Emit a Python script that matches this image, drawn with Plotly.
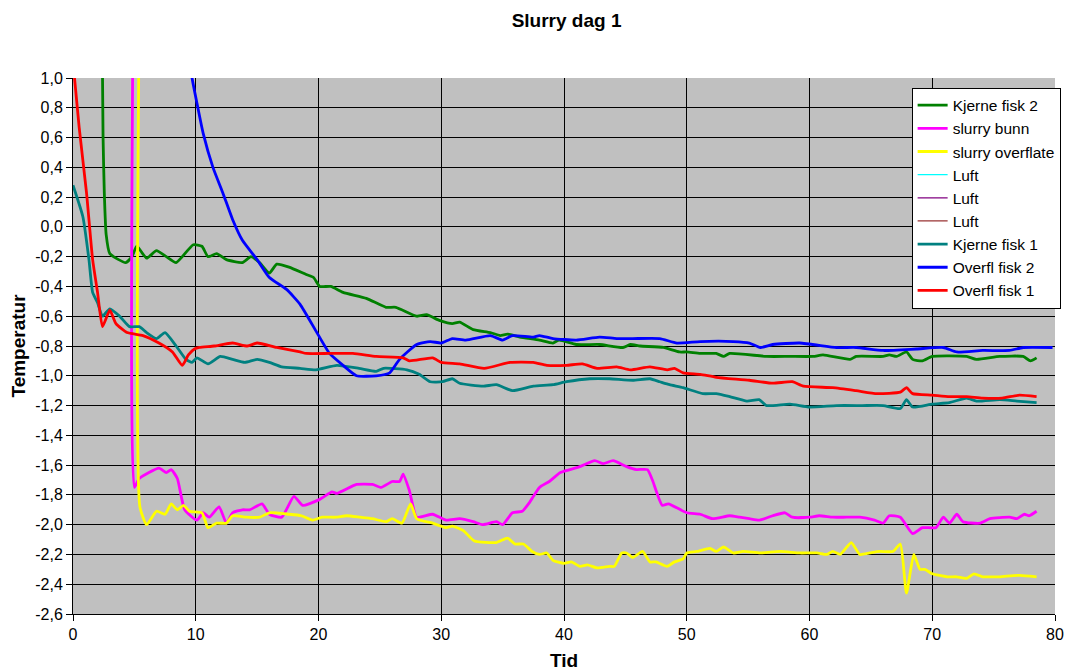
import plotly.graph_objects as go

# Kjerne fisk 2 (green)
k2_x = [2.35, 2.45, 2.55, 2.7, 3.0, 4.3, 4.8, 5.2, 6.0, 6.8, 7.6, 8.4, 9.8, 10.5, 11.0, 11.7, 12.5, 13.8, 14.5, 15.2,
        16.0, 16.6, 17.6, 19.0, 19.6, 20.1, 21.0, 22.0, 23.9, 25.5, 26.3, 28.0, 28.8, 29.9, 30.9, 31.5, 32.6, 34.0, 34.8, 35.4,
        36.4, 38.0, 39.1, 39.6, 41.0, 42.9, 44.8, 45.4, 46.2, 48.1, 49.4, 50.0, 51.1, 52.4, 53.0, 53.5, 56.5, 58.4, 60.3, 61.1,
        63.3, 63.8, 66.0, 66.5, 67.1, 67.9, 68.4, 69.2, 70.0, 72.8, 73.6, 75.5, 77.4, 78.0, 78.5]
k2_y = [1.5, 0.6, 0.23, -0.05, -0.18, -0.24, -0.20, -0.13, -0.21, -0.16, -0.20, -0.24, -0.12, -0.13, -0.20, -0.18, -0.22, -0.24, -0.20, -0.24,
        -0.31, -0.25, -0.27, -0.32, -0.34, -0.40, -0.40, -0.44, -0.48, -0.54, -0.54, -0.60, -0.59, -0.63, -0.65, -0.64, -0.69, -0.71, -0.73, -0.72,
        -0.74, -0.76, -0.78, -0.76, -0.79, -0.79, -0.81, -0.79, -0.80, -0.81, -0.84, -0.84, -0.85, -0.85, -0.87, -0.85, -0.87, -0.87, -0.87, -0.86,
        -0.89, -0.87, -0.87, -0.86, -0.87, -0.84, -0.89, -0.90, -0.87, -0.87, -0.89, -0.87, -0.87, -0.90, -0.88]

# slurry bunn (magenta)
sb_x = [4.9, 5.0, 5.4, 7.0, 7.6, 8.0, 8.5, 9.1, 10.1, 10.6, 11.1, 11.9, 12.5, 13.0, 13.8, 14.4, 15.4, 16.0, 17.0, 18.0,
        18.7, 20.1, 21.1, 21.5, 23.1, 24.4, 25.1, 26.0, 26.6, 26.9, 27.4, 28.0, 29.3, 30.4, 31.5, 32.6, 33.4, 34.5, 35.0, 35.8,
        36.6, 37.2, 38.0, 38.8, 39.7, 41.3, 42.5, 43.2, 44.0, 45.1, 45.9, 46.8, 47.2, 48.0, 48.5, 50.0, 51.1, 52.1, 53.5, 54.3,
        55.1, 55.9, 57.0, 58.0, 58.6, 60.0, 60.8, 61.9, 63.0, 64.1, 65.3, 66.0, 66.5, 67.4, 68.4, 69.2, 70.3, 70.9, 71.4, 72.0,
        72.5, 73.9, 74.7, 76.3, 76.9, 77.5, 77.9, 78.5]
sb_y = [1.5, -1.75, -1.69, -1.62, -1.65, -1.63, -1.69, -1.90, -1.97, -1.92, -1.95, -1.88, -1.99, -1.92, -1.90, -1.90, -1.86, -1.93, -1.95, -1.81,
        -1.87, -1.83, -1.78, -1.79, -1.73, -1.73, -1.75, -1.71, -1.71, -1.66, -1.77, -1.95, -1.93, -1.97, -1.96, -1.98, -2.00, -1.98, -2.00, -1.92,
        -1.91, -1.85, -1.75, -1.71, -1.65, -1.61, -1.57, -1.59, -1.57, -1.61, -1.63, -1.63, -1.70, -1.87, -1.86, -1.92, -1.93, -1.96, -1.94, -1.95,
        -1.96, -1.97, -1.94, -1.92, -1.95, -1.95, -1.94, -1.95, -1.95, -1.95, -1.97, -1.99, -1.94, -1.95, -2.06, -2.02, -2.02, -1.95, -1.99, -1.93,
        -1.98, -1.99, -1.96, -1.95, -1.96, -1.93, -1.94, -1.91]

# slurry overflate (yellow)
so_x = [5.4, 5.45, 6.0, 6.8, 7.5, 8.0, 8.5, 9.0, 9.5, 10.5, 11.0, 11.7, 12.5, 13.0, 14.1, 15.2, 16.0, 17.6, 18.6, 19.5,
        20.3, 21.4, 22.3, 23.4, 24.4, 25.5, 26.0, 26.8, 27.5, 28.0, 29.3, 30.4, 30.9, 31.8, 32.7, 34.5, 35.4, 36.0, 36.7, 37.4,
        38.0, 38.6, 39.1, 40.0, 40.6, 41.3, 41.9, 42.7, 43.7, 44.1, 44.7, 45.1, 45.6, 46.4, 47.0, 47.5, 48.4, 49.0, 49.7, 50.0,
        50.8, 51.9, 52.4, 53.0, 53.8, 54.6, 56.0, 57.6, 59.2, 60.6, 61.4, 61.9, 62.5, 63.4, 64.1, 64.9, 65.7, 66.8, 67.4, 67.9,
        68.5, 69.0, 69.4, 70.0, 71.2, 72.0, 72.8, 73.4, 74.1, 74.9, 75.5, 77.1, 78.5]
so_y = [1.5, -1.88, -2.00, -1.91, -1.93, -1.86, -1.90, -1.87, -1.91, -1.92, -2.02, -1.99, -1.99, -1.94, -1.95, -1.95, -1.92, -1.93, -1.94, -1.97,
        -1.95, -1.95, -1.94, -1.95, -1.96, -1.98, -1.96, -1.99, -1.86, -1.96, -1.99, -2.02, -2.01, -2.04, -2.11, -2.12, -2.09, -2.13, -2.13, -2.18,
        -2.20, -2.19, -2.24, -2.26, -2.25, -2.28, -2.27, -2.29, -2.28, -2.28, -2.19, -2.19, -2.22, -2.18, -2.25, -2.25, -2.28, -2.25, -2.23, -2.19,
        -2.18, -2.16, -2.18, -2.15, -2.19, -2.18, -2.19, -2.18, -2.19, -2.19, -2.20, -2.18, -2.20, -2.12, -2.20, -2.19, -2.18, -2.18, -2.13, -2.46,
        -2.20, -2.30, -2.30, -2.33, -2.35, -2.35, -2.36, -2.33, -2.35, -2.35, -2.35, -2.34, -2.35]

# Kjerne fisk 1 (teal)
k1_x = [0.0, 0.8, 1.3, 1.6, 2.0, 2.4, 3.0, 3.8, 4.6, 5.4, 6.0, 6.8, 7.5, 8.4, 9.2, 9.7, 10.1, 11.0, 12.0, 13.0,
        14.0, 15.0, 16.0, 17.0, 18.5, 19.8, 21.5, 23.3, 24.7, 25.3, 27.2, 28.2, 29.1, 30.1, 30.9, 31.5, 33.4, 34.5, 35.8, 37.5,
        39.1, 40.2, 42.1, 43.7, 45.6, 47.0, 47.8, 48.6, 49.7, 51.3, 52.4, 53.5, 54.9, 55.9, 56.5, 58.4, 60.0, 62.2, 64.3, 66.0,
        67.4, 67.9, 68.4, 70.0, 71.4, 72.8, 73.6, 75.5, 76.9, 78.5]
k1_y = [0.28, 0.07, -0.22, -0.44, -0.51, -0.60, -0.55, -0.60, -0.67, -0.67, -0.71, -0.75, -0.71, -0.80, -0.89, -0.91, -0.88, -0.92, -0.87, -0.89,
        -0.91, -0.89, -0.91, -0.94, -0.95, -0.96, -0.93, -0.95, -0.97, -0.95, -0.96, -0.99, -1.04, -1.04, -1.02, -1.05, -1.07, -1.06, -1.10, -1.07,
        -1.06, -1.04, -1.02, -1.02, -1.03, -1.02, -1.04, -1.06, -1.08, -1.12, -1.12, -1.14, -1.17, -1.16, -1.20, -1.19, -1.21, -1.20, -1.20, -1.20,
        -1.22, -1.16, -1.21, -1.19, -1.18, -1.15, -1.17, -1.16, -1.17, -1.18]

# Overfl fisk 2 (blue)
o2_x = [9.4, 9.7, 10.1, 10.6, 11.4, 12.2, 13.0, 13.8, 15.0, 16.0, 17.4, 18.5, 19.8, 20.9, 22.0, 23.1, 24.7, 25.8, 26.6, 28.0,
        29.1, 30.0, 30.9, 32.0, 34.0, 35.0, 35.8, 37.5, 38.0, 39.1, 41.0, 42.9, 44.3, 45.6, 47.8, 49.2, 51.1, 53.8, 55.1, 56.0,
        57.0, 59.2, 62.2, 63.8, 66.0, 68.7, 70.9, 72.0, 74.1, 76.3, 77.4, 79.8]
o2_y = [1.2, 1.0, 0.83, 0.63, 0.40, 0.23, 0.05, -0.09, -0.22, -0.34, -0.42, -0.52, -0.70, -0.85, -0.93, -1.00, -1.00, -0.98, -0.89, -0.79,
        -0.77, -0.78, -0.75, -0.76, -0.73, -0.76, -0.73, -0.74, -0.73, -0.75, -0.76, -0.74, -0.75, -0.75, -0.75, -0.78, -0.77, -0.77, -0.78, -0.81,
        -0.79, -0.78, -0.81, -0.81, -0.83, -0.82, -0.81, -0.84, -0.83, -0.83, -0.81, -0.81]

# Overfl fisk 1 (red)
o1_x = [0.1, 0.5, 1.1, 1.6, 2.0, 2.4, 3.0, 3.5, 4.4, 5.7, 7.0, 8.1, 8.9, 9.4, 9.9, 10.3, 11.5, 13.0, 14.2, 15.0,
        16.6, 18.5, 19.0, 20.9, 22.8, 24.7, 26.9, 27.4, 29.3, 30.0, 31.5, 33.5, 35.6, 37.5, 38.6, 40.2, 41.5, 42.7, 44.3, 45.4,
        47.0, 48.4, 49.0, 49.7, 51.1, 52.4, 55.1, 57.0, 58.6, 59.5, 61.9, 63.8, 65.5, 67.4, 67.9, 68.4, 70.0, 71.4, 72.8, 74.1,
        75.7, 77.1, 78.5]
o1_y = [1.02, 0.67, 0.23, -0.22, -0.44, -0.67, -0.56, -0.65, -0.71, -0.73, -0.78, -0.84, -0.93, -0.86, -0.82, -0.81, -0.80, -0.78, -0.80, -0.78,
        -0.81, -0.84, -0.85, -0.85, -0.85, -0.87, -0.88, -0.90, -0.88, -0.91, -0.92, -0.95, -0.91, -0.91, -0.93, -0.93, -0.92, -0.95, -0.94, -0.96,
        -0.94, -0.96, -0.95, -0.98, -0.99, -1.01, -1.03, -1.05, -1.04, -1.07, -1.08, -1.10, -1.12, -1.11, -1.08, -1.12, -1.13, -1.14, -1.14, -1.15,
        -1.15, -1.13, -1.14]

for a, b in [(k2_x, k2_y), (sb_x, sb_y), (so_x, so_y), (k1_x, k1_y), (o2_x, o2_y), (o1_x, o1_y)]:
    assert len(a) == len(b), (len(a), len(b))

y_ticks = [1.0, 0.8, 0.6, 0.4, 0.2, 0.0, -0.2, -0.4, -0.6, -0.8, -1.0, -1.2, -1.4, -1.6, -1.8, -2.0, -2.2, -2.4, -2.6]
y_labels = [f"{v:.1f}".replace(".", ",") for v in y_ticks]

fig = go.Figure()


def add(name, x, y, color, width=2.8):
    fig.add_trace(go.Scatter(x=x, y=y, mode="lines", name=name, legendgroup=name + str(len(fig.data)),
                             line=dict(color=color, width=width, shape="spline", smoothing=0.5)))


add("Kjerne fisk 2", k2_x, k2_y, "#008000")
add("slurry bunn", sb_x, sb_y, "#FF00FF")
add("slurry overflate", so_x, so_y, "#FFFF00")
# air series: no values inside the visible range
add("Luft", [None], [None], "#00FFFF", 1.3)
add("Luft", [None], [None], "#800080", 1.3)
add("Luft", [None], [None], "#993333", 1.3)
add("Kjerne fisk 1", k1_x, k1_y, "#008080")
add("Overfl fisk 2", o2_x, o2_y, "#0000FF")
add("Overfl fisk 1", o1_x, o1_y, "#FF0000")

fig.update_layout(
    width=1065, height=671,
    margin=dict(l=73, r=10, t=78, b=57, autoexpand=False),
    paper_bgcolor="white",
    plot_bgcolor="#C0C0C0",
    font=dict(family="Liberation Sans, Arial", size=16, color="black"),
    title=dict(text="<b>Slurry dag 1</b>", x=0.532, xanchor="center", y=0.970, yanchor="middle",
               font=dict(size=19)),
    showlegend=True,
    legend=dict(x=0.854, y=0.982, xanchor="left", yanchor="top", bgcolor="white",
                bordercolor="black", borderwidth=1, font=dict(size=15.5),
                tracegroupgap=0, itemwidth=30),
)
fig.update_xaxes(range=[0, 80], dtick=10, tick0=0, showgrid=True, gridcolor="black", gridwidth=1,
                 showline=True, linecolor="black", ticks="outside", ticklen=6, tickcolor="black",
                 zeroline=False, automargin=False, title=dict(text="<b>Tid</b>", standoff=12),
                 tickfont=dict(size=16))
fig.update_yaxes(range=[-2.6, 1.0], tickvals=y_ticks, ticktext=y_labels, showgrid=True, gridcolor="black",
                 gridwidth=1, showline=True, linecolor="black", ticks="outside", ticklen=6, tickcolor="black",
                 zeroline=False, automargin=False, title=dict(text="<b>Temperatur</b>", standoff=4),
                 tickfont=dict(size=16))

fig.write_html("out.html", config={"displayModeBar": False},
               post_script="document.body.style.margin='0';")
